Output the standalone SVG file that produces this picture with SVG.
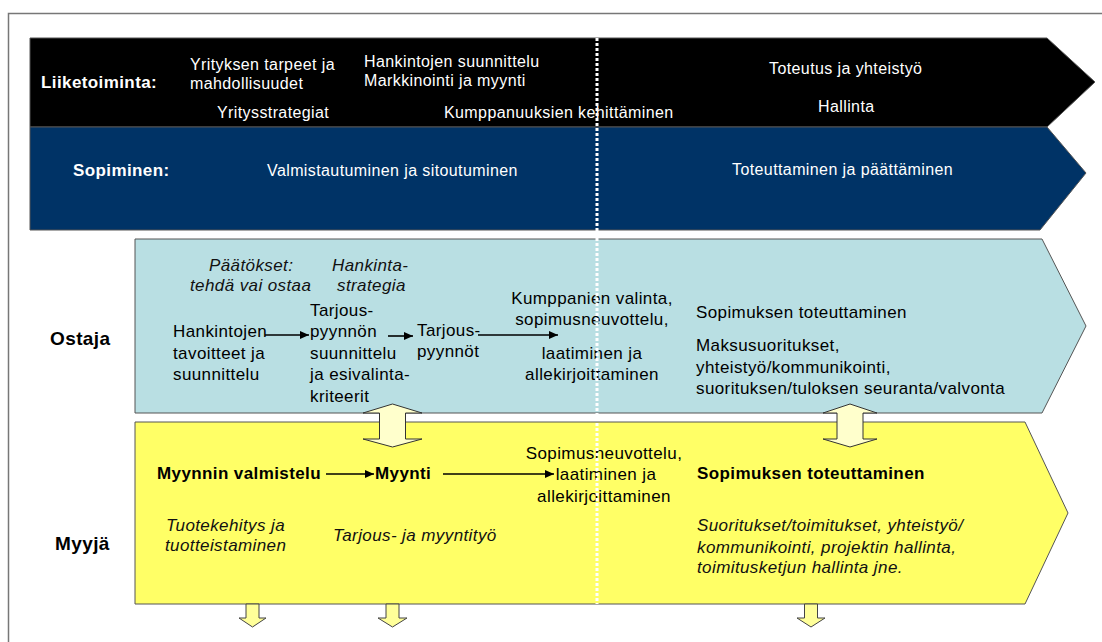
<svg xmlns="http://www.w3.org/2000/svg" width="1102" height="642" viewBox="0 0 1102 642">
<style>
text{font-family:"Liberation Sans",Arial,sans-serif;letter-spacing:0.4px}
.w{fill:#fff;font-size:16px}
.wb{fill:#fff;font-size:17px;font-weight:bold}
.t{fill:#000;font-size:17px}
.i{fill:#111;font-size:17px;font-style:italic}
.b{fill:#000;font-size:17px;font-weight:bold}
.big{fill:#000;font-size:19px;font-weight:bold}
.band{stroke:#555;stroke-width:1}
.dbl{fill:#FFFFCC;stroke:#333;stroke-width:1}
.dn{fill:#FFFF99;stroke:#444;stroke-width:1}
.conn{stroke:#000;stroke-width:1.6;fill:none;marker-end:url(#ah)}
</style>
<defs>
<marker id="ah" markerUnits="userSpaceOnUse" markerWidth="9" markerHeight="8" refX="9" refY="4" orient="auto">
<path d="M0,0 L9,4 L0,8 z" fill="#000"/>
</marker>
</defs>
<rect x="0" y="0" width="1102" height="642" fill="#fff"/>
<rect id="frame" x="8.5" y="13.5" width="1100" height="640" fill="none" stroke="#777" stroke-width="1.5"/>

<g id="liiketoiminta">
<polygon class="band" points="30,38 1047,38 1095,82 1047,127 30,127" fill="#000"/>
<text class="wb" x="41" y="88">Liiketoiminta:</text>
<text class="w" x="190" y="70">Yrityksen tarpeet ja</text>
<text class="w" x="190" y="89">mahdollisuudet</text>
<text class="w" x="364" y="67">Hankintojen suunnittelu</text>
<text class="w" x="364" y="86">Markkinointi ja myynti</text>
<text class="w" x="217" y="118">Yritysstrategiat</text>
<text class="w" x="444" y="118">Kumppanuuksien kehittäminen</text>
<text class="w" x="769" y="74">Toteutus ja yhteistyö</text>
<text class="w" x="818" y="112">Hallinta</text>
</g>

<g id="sopiminen">
<polygon class="band" points="30,127 1047,127 1086,173 1040,230 30,230" fill="#003366"/>
<text class="wb" x="73" y="176">Sopiminen:</text>
<text class="w" x="267" y="176">Valmistautuminen ja sitoutuminen</text>
<text class="w" x="732" y="175">Toteuttaminen ja päättäminen</text>
</g>

<g id="ostaja">
<polygon class="band" points="135,239 1042,239 1086,326 1042,413 135,413" fill="#B9DFE3"/>
<text class="big" x="50" y="345">Ostaja</text>
<text class="i" x="209" y="271">Päätökset:</text>
<text class="i" x="190" y="291">tehdä vai ostaa</text>
<text class="i" x="332" y="271">Hankinta-</text>
<text class="i" x="337" y="291">strategia</text>
<text class="t" x="173" y="337">Hankintojen</text>
<text class="t" x="173" y="359">tavoitteet ja</text>
<text class="t" x="173" y="380">suunnittelu</text>
<text class="t" x="310" y="316">Tarjous-</text>
<text class="t" x="310" y="337">pyynnön</text>
<text class="t" x="310" y="359">suunnittelu</text>
<text class="t" x="310" y="380">ja esivalinta-</text>
<text class="t" x="310" y="402">kriteerit</text>
<text class="t" x="417" y="336">Tarjous-</text>
<text class="t" x="417" y="357">pyynnöt</text>
<text class="t" x="592" y="304" text-anchor="middle">Kumppanien valinta,</text>
<text class="t" x="592" y="325" text-anchor="middle">sopimusneuvottelu,</text>
<text class="t" x="592" y="359" text-anchor="middle">laatiminen ja</text>
<text class="t" x="592" y="380" text-anchor="middle">allekirjoittaminen</text>
<text class="t" x="696" y="318">Sopimuksen toteuttaminen</text>
<text class="t" x="696" y="351">Maksusuoritukset,</text>
<text class="t" x="696" y="373">yhteistyö/kommunikointi,</text>
<text class="t" x="696" y="394">suorituksen/tuloksen seuranta/valvonta</text>
</g>

<g id="myyja">
<polygon class="band" points="135,422 1025,422 1068,513 1025,604 135,604" fill="#FFFF66"/>
<text class="big" x="55" y="550">Myyjä</text>
<text class="b" x="157" y="479">Myynnin valmistelu</text>
<text class="b" x="375" y="479">Myynti</text>
<text class="t" x="604" y="459" text-anchor="middle">Sopimusneuvottelu,</text>
<text class="t" x="606" y="480" text-anchor="middle">laatiminen ja</text>
<text class="t" x="604" y="502" text-anchor="middle">allekirjoittaminen</text>
<text class="b" x="697" y="479">Sopimuksen toteuttaminen</text>
<text class="i" x="166" y="531">Tuotekehitys ja</text>
<text class="i" x="165" y="551">tuotteistaminen</text>
<text class="i" x="333" y="541">Tarjous- ja myyntityö</text>
<text class="i" x="697" y="531">Suoritukset/toimitukset, yhteistyö/</text>
<text class="i" x="697" y="553">kommunikointi, projektin hallinta,</text>
<text class="i" x="697" y="573">toimitusketjun hallinta jne.</text>
</g>

<g id="vuorovaikutus">
<polygon class="dbl" points="392.5,404 422,413 405.5,413 405.5,439 422,439 392.5,447 363,439 379.5,439 379.5,413 363,413"/>
<polygon class="dbl" points="850,404 877,413 863,413 863,439 877,439 850,447 823,439 837,439 837,413 823,413"/>
</g>

<g id="tulokset">
<polygon class="dn" points="246,604 259,604 259,618 266,618 252.5,627 239,618 246,618"/>
<polygon class="dn" points="386,604 399,604 399,618 407,618 392.5,627 378,618 386,618"/>
<polygon class="dn" points="804.5,604 817.5,604 817.5,618 825,618 811,627 797,618 804.5,618"/>
</g>

<g id="connectors">
<line class="conn" x1="265" y1="335" x2="309" y2="335"/>
<line class="conn" x1="388" y1="336" x2="413" y2="336"/>
<line class="conn" x1="478" y1="335" x2="558" y2="335"/>
<line class="conn" x1="326" y1="474" x2="374" y2="474"/>
<line class="conn" x1="443" y1="474" x2="554" y2="474"/>
</g>

<line id="raja" x1="597" y1="38" x2="597" y2="604" stroke="#fff" stroke-width="3" stroke-dasharray="3 2"/>
</svg>
